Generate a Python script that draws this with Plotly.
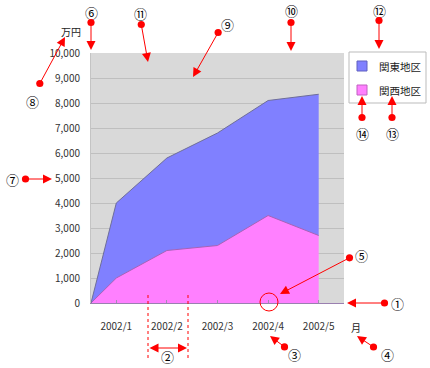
import plotly.graph_objects as go

# ---- data ----
months = ["2002/1", "2002/2", "2002/3", "2002/4", "2002/5"]
kanto = [3000, 3700, 4500, 4600, 5650]     # 関東地区 (stacked on top)
kansai = [1000, 2100, 2300, 3500, 2700]    # 関西地区 (bottom)
series_names = ["関東地区", "関西地区"]
y_ticks = list(range(0, 10001, 1000))

# ---- layout constants (pixels) ----
W, H = 430, 368
L, R, T, B = 91, 344, 53, 303
FONT = "Noto Sans CJK JP"
RED = "#FF0000"

def px(xp):
    return (xp - L) / (R - L)

def py(yp):
    return (B - yp) / (B - T)

# category centres: half-category offset, the area starts from the axis origin
xpos = [0] + [i + 0.5 for i in range(len(months))]

fig = go.Figure()
fig.add_trace(go.Scatter(
    x=xpos, y=[0] + kansai, name=series_names[1], stackgroup="one",
    mode="lines", line=dict(color="#A860B8", width=1), fillcolor="#FF80FF",
    hoverinfo="skip"))
fig.add_trace(go.Scatter(
    x=xpos, y=[0] + kanto, name=series_names[0], stackgroup="one",
    mode="lines", line=dict(color="#6E6E9A", width=1), fillcolor="#8080FF",
    hoverinfo="skip"))

annotations = []
shapes = []

def label(text, xx, yy, size=10, color="#222", xanchor="center"):
    return dict(text=text, x=px(xx), y=py(yy), xref="paper", yref="paper",
                xanchor=xanchor, yanchor="middle", showarrow=False,
                font=dict(family=FONT, size=size, color=color))

# axis labels
annotations.append(label("万円", 71, 32))
annotations.append(label("月", 356, 327))

# manual legend
shapes.append(dict(type="rect", xref="paper", yref="paper",
                   x0=px(349), x1=px(426), y0=py(103), y1=py(52),
                   fillcolor="white", line=dict(color="#BBBBBB", width=1)))
legend_items = [(series_names[0], "#8080FF", "#6060C0", 66),
                (series_names[1], "#FF80FF", "#C060C0", 90)]
for name, fc, lc, yc in legend_items:
    shapes.append(dict(type="rect", xref="paper", yref="paper",
                       x0=px(357), x1=px(367), y0=py(yc + 5), y1=py(yc - 5),
                       fillcolor=fc, line=dict(color=lc, width=1)))
    annotations.append(label(name, 377, yc, size=10.5, xanchor="left"))

# circled numbers
numbers = [("①", 397, 303), ("②", 167, 356), ("③", 294, 354), ("④", 387, 354),
           ("⑤", 361, 255), ("⑥", 91, 12), ("⑦", 12, 179), ("⑧", 32, 102),
           ("⑨", 227, 25), ("⑩", 291, 10), ("⑪", 140, 13), ("⑫", 379, 10),
           ("⑬", 392, 133), ("⑭", 362, 133)]
for t, xx, yy in numbers:
    annotations.append(label(t, xx, yy, size=13, color="black"))

# arrows: tail (dot) -> tip (triangle)
arrows = [(386, 303, 347, 303), (286, 348, 270, 336), (375, 348, 357, 336),
          (351, 257, 280, 294), (91, 21, 91, 50), (24, 179, 52, 179),
          (39, 85, 65, 37), (219, 31, 193, 77), (291, 21, 291, 51),
          (141, 23, 148, 62), (379, 19, 379, 49), (392, 119, 392, 96),
          (362, 119, 362, 96)]
for tx, ty, hx, hy in arrows:
    annotations.append(dict(text="", x=px(hx), y=py(hy), xref="paper", yref="paper",
                            ax=tx - hx, ay=ty - hy, showarrow=True,
                            arrowside="end+start", arrowhead=2, arrowsize=1.8,
                            startarrowhead=6, startarrowsize=1.8,
                            arrowwidth=1, arrowcolor=RED, standoff=0, startstandoff=0))
# double arrow ②
annotations.append(dict(text="", x=px(187), y=py(348), xref="paper", yref="paper",
                        ax=148 - 187, ay=0, showarrow=True,
                        arrowside="end+start", arrowhead=2, startarrowhead=2,
                        arrowsize=1.8, startarrowsize=1.8,
                        arrowwidth=1, arrowcolor=RED, standoff=0, startstandoff=0))

# dotted guides for ②
for xx in (148, 188):
    shapes.append(dict(type="line", xref="paper", yref="paper",
                       x0=px(xx), x1=px(xx), y0=py(295), y1=py(358),
                       line=dict(color=RED, width=1, dash="dot")))
# circle ⑤
shapes.append(dict(type="circle", xref="paper", yref="paper",
                   x0=px(260), x1=px(278), y0=py(311), y1=py(293),
                   line=dict(color=RED, width=1)))

fig.update_layout(
    width=W, height=H,
    margin=dict(l=L, r=W - R, t=T, b=H - B, autoexpand=False),
    paper_bgcolor="white", plot_bgcolor="#D9D9D9",
    showlegend=False,
    xaxis=dict(range=[0, len(months)], tickvals=[i + 0.5 for i in range(len(months))],
               ticktext=months, ticks="inside", ticklen=3, tickcolor="#A090B0",
               showgrid=False, zeroline=False, showline=True, linecolor="#9A80B0",
               ticklabelstandoff=14,
               tickfont=dict(family=FONT, size=10, color="#333")),
    yaxis=dict(range=[0, 10000], tickvals=y_ticks, tickformat=",", ticks="",
               showgrid=True, gridcolor="#BFBFBF", gridwidth=1, zeroline=False,
               showline=True, linecolor="#C4C4C4", ticklabelstandoff=8,
               tickfont=dict(family=FONT, size=10, color="#333")),
    annotations=annotations, shapes=shapes,
)

fig.write_html(
    "out.html",
    config={"displayModeBar": False, "staticPlot": True},
    post_script="document.body.style.margin='0';document.body.style.padding='0';"
                "document.documentElement.style.overflow='hidden';",
)
